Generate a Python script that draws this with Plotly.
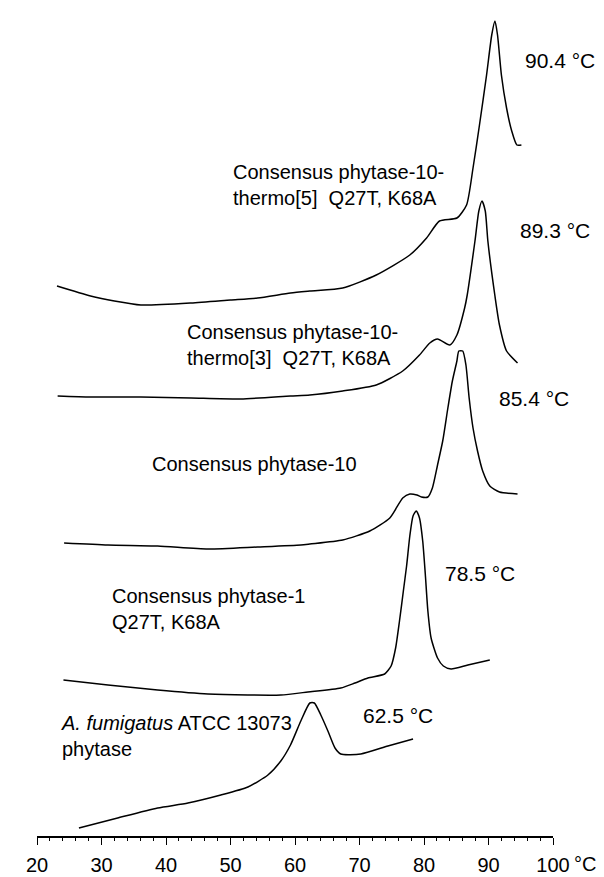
import plotly.graph_objects as go

# ---- data (temperature °C, stacked DSC signal, arbitrary units) ----
t_thermo5 = [23.1, 28.3, 32.0, 36.1, 43.9, 50.0, 54.2, 59.3, 62.3, 67.4, 72.6, 77.8, 80.4, 82.4, 85.1,
             86.6, 87.6, 88.6, 89.7, 90.5, 91.0, 91.4, 92.0, 92.8, 93.6, 94.4, 95.1]
s_thermo5 = [550, 540, 535, 531, 533, 536, 538, 543, 545, 548, 561, 581, 598, 615, 618,
             631, 668, 711, 761, 801, 815, 801, 761, 728, 705, 691, 691]

t_thermo3 = [23.2, 28.3, 36.1, 43.9, 51.6, 59.3, 62.3, 67.4, 72.6, 76.7, 79.3, 80.9, 82.1, 84.0, 85.1,
             86.3, 86.7, 87.9, 88.5, 89.0, 89.5, 89.9, 91.0, 91.7, 92.8, 94.5]
s_thermo3 = [440, 439, 439, 438, 437, 440, 441, 445, 451, 465, 481, 493, 497, 491, 501,
             528, 541, 595, 625, 635, 625, 595, 540, 511, 485, 473]

t_cons10 = [24.2, 31.0, 38.7, 46.5, 54.2, 60.9, 62.3, 67.4, 71.6, 74.7, 76.7, 77.8, 78.9, 79.6, 80.6,
            81.3, 82.1, 82.9, 83.7, 84.4, 85.1, 85.4, 86.0, 86.5, 87.0, 87.6, 88.3, 89.1, 90.2, 91.7, 94.5]
s_cons10 = [293, 291, 290, 287, 289, 291, 292, 296, 305, 318, 338, 342, 341, 339, 339,
            348, 371, 395, 428, 455, 475, 485, 485, 471, 438, 408, 385, 365, 350, 344, 342]

t_cons1 = [24.1, 31.0, 38.7, 46.5, 52.7, 57.8, 62.0, 67.1, 69.3, 71.3, 73.9, 74.9, 75.6, 76.2, 76.8,
           77.3, 77.8, 78.3, 78.8, 79.3, 79.8, 80.2, 80.6, 81.1, 82.1, 83.0, 84.2, 86.8, 90.2]
s_cons1 = [156, 151, 146, 142, 141, 141, 144, 148, 153, 158, 162, 170, 188, 215, 245,
           270, 300, 320, 325, 318, 295, 262, 225, 198, 178, 170, 167, 171, 176]

t_fumi = [26.5, 32.5, 38.7, 43.4, 48.5, 52.7, 55.8, 57.8, 59.3, 60.9, 62.3, 63.0, 64.0, 65.1, 66.2,
          67.1, 70.2, 74.4, 78.3]
s_fumi = [8, 18, 28, 33, 41, 49, 61, 75, 91, 115, 133, 133, 121, 105, 88,
          82, 82, 90, 97]

sample_names = [
    "Consensus phytase-10-<br>thermo[5]  Q27T, K68A",
    "Consensus phytase-10-<br>thermo[3]  Q27T, K68A",
    "Consensus phytase-10",
    "Consensus phytase-1<br>Q27T, K68A",
    "<i>A. fumigatus</i> ATCC 13073<br>phytase",
]
tm_labels = ["90.4 °C", "89.3 °C", "85.4 °C", "78.5 °C", "62.5 °C"]
x_ticks = [20, 30, 40, 50, 60, 70, 80, 90, 100]
x_unit = "°C"

curves = [(t_thermo5, s_thermo5), (t_thermo3, s_thermo3), (t_cons10, s_cons10),
          (t_cons1, s_cons1), (t_fumi, s_fumi)]

fig = go.Figure()
for t, s in curves:
    fig.add_trace(go.Scatter(x=t, y=s, mode="lines",
                             line=dict(color="black", width=1.5, shape="spline", smoothing=0.6),
                             showlegend=False, hoverinfo="skip"))

FONT = "Liberation Sans, Arial, Helvetica, sans-serif"

# sample name labels (left-anchored)
name_pos = [(50.0, 651), (42.9, 491), (37.5, 372), (31.3, 227), (23.4, 100)]
for (x, y), txt in zip(name_pos, sample_names):
    fig.add_annotation(x=x, y=y, text=txt, showarrow=False, xanchor="left", yanchor="middle",
                       align="left", font=dict(family=FONT, size=20, color="black"))

# Tm labels
tm_pos = [(95.3, 776), (94.5, 606), (91.3, 438), (82.9, 263), (70.2, 121)]
for (x, y), txt in zip(tm_pos, tm_labels):
    fig.add_annotation(x=x, y=y, text=txt, showarrow=False, xanchor="left", yanchor="middle",
                       font=dict(family=FONT, size=21, color="black"))

# unit after the last tick label
fig.add_annotation(x=1.036, xref="paper", y=0, yref="paper", text=x_unit, showarrow=False,
                   xanchor="left", yanchor="middle", yshift=-28,
                   font=dict(family=FONT, size=20, color="black"))

fig.update_xaxes(range=[20, 100], showline=True, linecolor="black", linewidth=1.6,
                 ticks="outside", ticklen=7, tickwidth=1.3, tickcolor="black",
                 tickvals=x_ticks, ticktext=[str(v) for v in x_ticks],
                 tickfont=dict(family=FONT, size=20, color="black"),
                 ticklabelstandoff=3,
                 minor=dict(dtick=2, tick0=20, ticks="outside", ticklen=3.5, tickwidth=1.1,
                            tickcolor="black", showgrid=False),
                 showgrid=False, zeroline=False, fixedrange=True)
fig.update_yaxes(range=[0, 828], visible=False, showgrid=False, zeroline=False, fixedrange=True)

fig.update_layout(width=604, height=877, margin=dict(l=29, r=59, t=0, b=49),
                  paper_bgcolor="white", plot_bgcolor="white",
                  font=dict(family=FONT, color="black"))

fig.write_html("out.html")
